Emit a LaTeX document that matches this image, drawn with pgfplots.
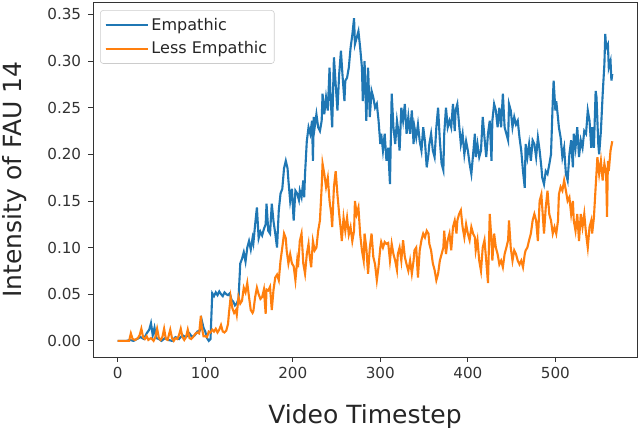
\documentclass[border=0pt]{standalone}
\usepackage{fontspec}
\setmainfont{DejaVu Sans}
\usepackage{pgfplots}
\pgfplotsset{compat=1.18}

\definecolor{mplblue}{RGB}{31,119,180}
\definecolor{mplorange}{RGB}{255,127,14}

\begin{document}
\begin{tikzpicture}
\begin{axis}[
    scale only axis,
    width=13.6cm, height=8.875cm,
    xmin=-28.25, xmax=593.25,
    ymin=-0.0173, ymax=0.3633,
    xtick={0,100,...,500},
    ytick={0,0.05,...,0.35},
    xtick pos=bottom, ytick pos=left,
    yticklabel style={xshift=-0.05cm,
        /pgf/number format/fixed,
        /pgf/number format/fixed zerofill,
        /pgf/number format/precision=2},
    /pgf/number format/assume math mode=true,
    tick align=outside,
    major tick length=0.122cm,
    tick style={black!80, line width=0.6pt},
    axis line style={black!80, line width=0.6pt},
    ticklabel style={font=\fontsize{10.8}{13}\selectfont, text=black!80},
    xlabel={Video Timestep},
    ylabel={Intensity of FAU 14},
    label style={font=\fontsize{17.8}{20}\selectfont, text=black!85},
    xlabel style={at={(axis description cs:0.5,-0.186)}, anchor=base},
    ylabel style={at={(axis description cs:-0.132,0.5)}, anchor=base},
    legend style={at={(axis description cs:0.013,0.977)}, anchor=north west,
        draw=black!20, rounded corners=2pt, fill=white,
        font=\fontsize{11.4}{13}\selectfont, text=black!85,
        inner xsep=3pt, inner ysep=3.4pt, row sep=2.6pt},
    legend cell align=left,
    legend image code/.code={
        \draw[#1, line width=1.5pt] (0cm,0cm) -- (0.875cm,0cm);
        \path (0cm,0cm) -- (1.05cm,0cm);},
]
% Empathic
\addplot[color=mplblue, line width=1.5pt] coordinates {
(0,0.000) (5,0.000) (10,0.000) (14,0.001) (18,0.000) (22,0.002) (26,0.004) (30,0.002)
(33,0.008) (36,0.012) (38,0.019) (40,0.006) (42,0.014) (44,0.003) (47,0.002) (50,0.000)
(54,0.003) (58,0.001) (62,0.000) (66,0.004) (70,0.002) (74,0.006) (78,0.004) (82,0.008)
(85,0.004) (88,0.006) (91,0.010) (94,0.011) (96,0.022) (98,0.014) (100,0.010) (102,0.003)
(104,0.000) (106,0.002) (108,0.051) (110,0.048) (112,0.052) (114,0.049) (116,0.053) (118,0.050)
(120,0.048) (122,0.052) (124,0.050) (126,0.049) (128,0.051) (130,0.044) (132,0.042) (134,0.038)
(136,0.040) (138,0.045) (140,0.083) (142,0.088) (144,0.095) (146,0.085) (148,0.100) (150,0.107)
(152,0.098) (154,0.110) (155,0.105) (157,0.125) (159,0.143) (161,0.110) (163,0.117) (165,0.113)
(167,0.120) (169,0.125) (170,0.147) (172,0.118) (174,0.115) (176,0.147) (178,0.128) (180,0.115)
(182,0.100) (184,0.140) (186,0.158) (188,0.163) (190,0.185) (192,0.193) (194,0.185) (195,0.172)
(197,0.150) (199,0.163) (201,0.129) (203,0.161) (205,0.158) (207,0.151) (208,0.161) (210,0.154)
(212,0.172) (213,0.154) (214,0.179) (216,0.214) (218,0.229) (220,0.222) (222,0.236) (223,0.193)
(224,0.240) (225,0.229) (227,0.243) (229,0.229) (231,0.225) (233,0.236) (234,0.265) (236,0.243)
(238,0.261) (240,0.247) (242,0.293) (243,0.265) (245,0.229) (247,0.304) (249,0.275) (251,0.247)
(253,0.286) (255,0.311) (257,0.282) (259,0.257) (260,0.279) (262,0.282) (264,0.293) (266,0.314)
(268,0.328) (270,0.346) (271,0.318) (273,0.325) (275,0.332) (277,0.314) (279,0.293) (280,0.257)
(282,0.300) (284,0.236) (286,0.293) (288,0.240) (290,0.268) (292,0.261) (294,0.250) (296,0.254)
(298,0.236) (300,0.211) (301,0.222) (303,0.204) (305,0.222) (307,0.193) (309,0.207) (311,0.168)
(313,0.265) (315,0.229) (317,0.211) (319,0.236) (320,0.229) (322,0.204) (324,0.250) (326,0.236)
(328,0.254) (330,0.222) (332,0.240) (334,0.222) (336,0.247) (338,0.211) (339,0.229) (341,0.218)
(343,0.232) (345,0.214) (347,0.204) (349,0.229) (351,0.214) (353,0.186) (355,0.200) (356,0.211)
(358,0.222) (360,0.204) (362,0.197) (364,0.229) (366,0.250) (368,0.215) (370,0.190) (372,0.183)
(373,0.222) (375,0.250) (377,0.229) (379,0.236) (381,0.229) (383,0.254) (385,0.225) (386,0.247)
(388,0.254) (390,0.232) (392,0.211) (394,0.222) (396,0.200) (398,0.214) (400,0.204) (402,0.190)
(404,0.179) (406,0.200) (408,0.222) (409,0.197) (411,0.211) (413,0.197) (415,0.204) (417,0.240)
(419,0.218) (421,0.197) (423,0.222) (425,0.236) (427,0.193) (428,0.236) (430,0.254) (432,0.247)
(434,0.229) (436,0.250) (438,0.229) (440,0.265) (442,0.229) (444,0.222) (446,0.215) (447,0.254)
(449,0.247) (451,0.229) (453,0.240) (455,0.232) (457,0.236) (459,0.218) (461,0.204) (463,0.182)
(465,0.164) (466,0.211) (468,0.197) (470,0.211) (472,0.193) (474,0.215) (476,0.211) (478,0.197)
(480,0.218) (482,0.204) (484,0.186) (485,0.175) (487,0.168) (489,0.182) (491,0.179) (493,0.189)
(495,0.200) (497,0.257) (498,0.279) (500,0.247) (501,0.257) (503,0.239) (504,0.229) (506,0.218)
(508,0.197) (510,0.207) (512,0.179) (514,0.172) (516,0.200) (518,0.215) (520,0.186) (521,0.222)
(523,0.207) (525,0.229) (527,0.197) (529,0.215) (531,0.207) (533,0.225) (535,0.222) (537,0.247)
(539,0.236) (541,0.207) (542,0.229) (544,0.207) (546,0.268) (547,0.261) (549,0.211) (550,0.200)
(552,0.225) (554,0.264) (556,0.297) (557,0.329) (558,0.314) (560,0.318) (561,0.293) (563,0.300)
(564,0.279) (565,0.286)
};
\addlegendentry{Empathic}
% Less Empathic
\addplot[color=mplorange, line width=1.5pt] coordinates {
(0,0.000) (5,0.000) (10,0.000) (13,0.000) (15,0.008) (17,0.002) (20,0.001) (23,0.003)
(25,0.006) (27,0.013) (29,0.004) (31,0.002) (33,0.005) (35,0.001) (38,0.003) (41,0.000)
(43,0.004) (45,0.013) (47,0.003) (49,0.001) (51,0.004) (53,0.013) (55,0.002) (57,0.001)
(60,0.012) (62,0.003) (64,0.000) (66,0.003) (68,0.002) (70,0.006) (72,0.013) (74,0.004)
(76,0.001) (78,0.004) (80,0.012) (82,0.003) (84,0.002) (86,0.004) (89,0.008) (91,0.009)
(93,0.008) (95,0.027) (96,0.015) (98,0.005) (100,0.005) (102,0.004) (104,0.010) (106,0.009)
(108,0.012) (110,0.010) (112,0.013) (114,0.009) (116,0.012) (118,0.017) (120,0.010) (122,0.009)
(124,0.011) (126,0.018) (127,0.029) (129,0.047) (131,0.035) (133,0.030) (135,0.033) (136,0.028)
(138,0.047) (140,0.040) (142,0.043) (144,0.057) (146,0.052) (148,0.062) (150,0.047) (152,0.033)
(154,0.030) (155,0.032) (157,0.047) (159,0.057) (161,0.050) (163,0.045) (165,0.047) (167,0.055)
(169,0.029) (170,0.055) (172,0.054) (174,0.058) (176,0.033) (178,0.055) (180,0.068) (182,0.071)
(184,0.065) (186,0.086) (188,0.100) (190,0.115) (192,0.110) (193,0.097) (195,0.083) (197,0.093)
(199,0.083) (201,0.080) (203,0.065) (205,0.086) (206,0.079) (208,0.107) (210,0.115) (212,0.083)
(214,0.072) (216,0.093) (218,0.104) (219,0.093) (221,0.079) (223,0.107) (225,0.097) (227,0.100)
(229,0.118) (231,0.129) (233,0.165) (234,0.190) (236,0.179) (238,0.165) (240,0.175) (242,0.150)
(244,0.136) (245,0.122) (247,0.165) (249,0.182) (251,0.157) (253,0.136) (255,0.118) (256,0.107)
(258,0.132) (260,0.118) (262,0.132) (264,0.114) (266,0.122) (268,0.107) (270,0.118) (271,0.150)
(273,0.136) (275,0.143) (277,0.114) (279,0.097) (281,0.086) (282,0.115) (284,0.100) (286,0.072)
(288,0.100) (290,0.115) (292,0.090) (294,0.082) (296,0.065) (298,0.080) (300,0.100) (301,0.106)
(303,0.100) (305,0.106) (307,0.104) (309,0.105) (311,0.086) (313,0.104) (315,0.093) (317,0.086)
(319,0.076) (320,0.093) (322,0.100) (324,0.086) (326,0.108) (328,0.090) (330,0.082) (332,0.075)
(334,0.086) (336,0.072) (338,0.086) (339,0.097) (341,0.100) (343,0.068) (345,0.097) (347,0.108)
(349,0.115) (351,0.111) (353,0.118) (355,0.115) (356,0.104) (358,0.097) (360,0.083) (362,0.076)
(364,0.065) (366,0.072) (368,0.086) (370,0.093) (372,0.100) (373,0.118) (375,0.093) (377,0.108)
(379,0.115) (381,0.097) (383,0.122) (385,0.129) (387,0.115) (388,0.129) (390,0.136) (392,0.140)
(394,0.122) (396,0.111) (398,0.125) (400,0.115) (402,0.108) (404,0.122) (406,0.115) (408,0.111)
(409,0.097) (411,0.108) (413,0.086) (415,0.075) (417,0.100) (419,0.108) (421,0.086) (423,0.062)
(425,0.136) (427,0.108) (428,0.086) (430,0.115) (432,0.100) (434,0.093) (436,0.082) (438,0.086)
(440,0.079) (442,0.093) (444,0.100) (446,0.108) (447,0.129) (449,0.100) (451,0.086) (453,0.097)
(455,0.093) (457,0.086) (459,0.082) (461,0.086) (463,0.079) (465,0.093) (466,0.097) (468,0.100)
(470,0.108) (472,0.115) (474,0.129) (476,0.136) (478,0.129) (480,0.107) (482,0.150) (484,0.157)
(485,0.143) (487,0.115) (489,0.143) (491,0.161) (493,0.136) (495,0.129) (497,0.115) (499,0.122)
(501,0.115) (503,0.129) (504,0.157) (506,0.165) (508,0.161) (510,0.172) (512,0.161) (514,0.150)
(516,0.154) (518,0.136) (520,0.150) (521,0.129) (523,0.118) (525,0.136) (527,0.107) (529,0.136)
(531,0.122) (533,0.136) (535,0.115) (537,0.100) (539,0.122) (541,0.129) (542,0.115) (544,0.132)
(546,0.165) (548,0.197) (550,0.179) (552,0.193) (554,0.172) (556,0.190) (558,0.179) (559,0.133)
(560,0.193) (561,0.182) (563,0.204) (565,0.214)
};
\addlegendentry{Less Empathic}
\end{axis}
\pgfresetboundingbox
\useasboundingbox ([shift={(-2.325cm,-1.75cm)}]current axis.south west)
    rectangle ([shift={(0.075cm,0.05cm)}]current axis.north east);
\end{tikzpicture}
\end{document}
